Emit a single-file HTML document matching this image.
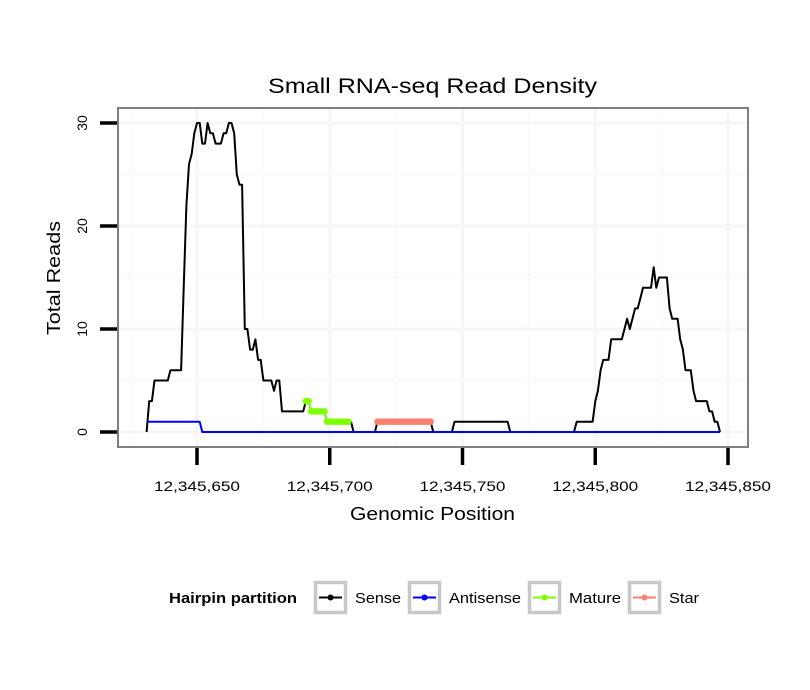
<!DOCTYPE html>
<html><head><meta charset="utf-8">
<style>
html,body{margin:0;padding:0;background:#fff;}
svg{display:block;font-family:"Liberation Sans",sans-serif;}
</style></head>
<body>
<svg id="chart" width="810" height="690" viewBox="0 0 810 690" xmlns="http://www.w3.org/2000/svg">
<rect x="0" y="0" width="810" height="690" fill="#fff"/>
<text x="268" y="93" font-size="21" textLength="329" lengthAdjust="spacingAndGlyphs" fill="#000">Small RNA-seq Read Density</text>
<g id="grid"></g>
<g id="series"></g>
<rect x="118" y="108" width="630" height="339" fill="none" stroke="#7f7f7f" stroke-width="2"/>
<g id="axes"></g>
<text x="350" y="520" font-size="18" textLength="165" lengthAdjust="spacingAndGlyphs" fill="#000">Genomic Position</text>
<text transform="translate(60,335) rotate(-90)" font-size="18" textLength="114" lengthAdjust="spacingAndGlyphs" fill="#000">Total Reads</text>
<g>
<text x="169" y="603" font-size="14.5" font-weight="bold" textLength="128" lengthAdjust="spacingAndGlyphs" fill="#000">Hairpin partition</text>
<g>
<rect x="315.5" y="582.5" width="30" height="30" fill="#fff" stroke="#c8c8c8" stroke-width="3.5"/>
<line x1="319" y1="597.5" x2="342" y2="597.5" stroke="#000" stroke-width="2"/><circle cx="330.5" cy="597.5" r="3" fill="#000"/>
<text x="355" y="603" font-size="15" textLength="46" lengthAdjust="spacingAndGlyphs">Sense</text></g>
<g>
<rect x="409.5" y="582.5" width="30" height="30" fill="#fff" stroke="#c8c8c8" stroke-width="3.5"/>
<line x1="413" y1="597.5" x2="436" y2="597.5" stroke="#0000ff" stroke-width="2"/><circle cx="424.5" cy="597.5" r="3" fill="#0000ff"/>
<text x="449" y="603" font-size="15" textLength="72" lengthAdjust="spacingAndGlyphs">Antisense</text></g>
<g>
<rect x="529.5" y="582.5" width="30" height="30" fill="#fff" stroke="#c8c8c8" stroke-width="3.5"/>
<line x1="533" y1="597.5" x2="556" y2="597.5" stroke="#7fff00" stroke-width="2"/><circle cx="544.5" cy="597.5" r="3" fill="#7fff00"/>
<text x="569" y="603" font-size="15" textLength="52" lengthAdjust="spacingAndGlyphs">Mature</text></g>
<g>
<rect x="629.5" y="582.5" width="30" height="30" fill="#fff" stroke="#c8c8c8" stroke-width="3.5"/>
<line x1="633" y1="597.5" x2="656" y2="597.5" stroke="#fa8072" stroke-width="2"/><circle cx="644.5" cy="597.5" r="3" fill="#fa8072"/>
<text x="669" y="603" font-size="15" textLength="30" lengthAdjust="spacingAndGlyphs">Star</text></g>
</g>
</svg>
<script>
const xTicks = [12345650, 12345700, 12345750, 12345800, 12345850];
const xTickLabels = ["12,345,650", "12,345,700", "12,345,750", "12,345,800", "12,345,850"];
const yTicks = [0, 10, 20, 30];
const yTickLabels = ["0", "10", "20", "30"];
const base = 12345000;
const sensePos = [631,632,633,634,639,640,644,645,646,647,648,649,650,651,652,653,654,655,656,657,659,660,661,662,663,664,665,666,667,668,669,670,671,672,673,674,675,678,679,680,681,682,690,691,692,693,698,699,708,709,717,718,738,739,746,747,767,768,792,793,799,800,801,802,803,805,806,810,811,812,813,815,816,817,818,821,822,823,824,827,828,829,831,832,833,834,836,837,838,842,843,844,845,846,847];
const senseVal = [0,3,3,5,5,6,6,14,22,26,27,29,30,30,28,28,30,29,29,28,28,29,29,30,30,29,25,24,24,10,10,8,8,9,7,7,5,5,4,5,5,2,2,3,3,2,2,1,1,0,0,1,1,0,0,1,1,0,0,1,1,3,4,6,7,7,9,9,10,11,10,12,12,13,14,14,16,14,15,15,12,11,11,9,8,6,6,4,3,3,2,2,1,1,0];
const antisensePos = [631,651,652,847];
const antisenseVal = [1,1,0,0];
const maturePos = [691,692,693,694,695,696,697,698,699,700,701,702,703,704,705,706,707];
const matureVal = [3,3,2,2,2,2,2,2,1,1,1,1,1,1,1,1,1];
const starPos = [718,719,720,721,722,723,724,725,726,727,728,729,730,731,732,733,734,735,736,737,738];
const starVal = [1,1,1,1,1,1,1,1,1,1,1,1,1,1,1,1,1,1,1,1,1];

const NS = "http://www.w3.org/2000/svg";
const xs = v => 197 + (v - 12345650) * 2.655;
const ys = v => 432 - v * 10.3;
function mk(tag, attrs, parent) {
  const e = document.createElementNS(NS, tag);
  for (const k in attrs) e.setAttribute(k, attrs[k]);
  parent.appendChild(e);
  return e;
}
const grid = document.getElementById('grid');
mk('rect', {x:118, y:108, width:630, height:339, fill:'#fff'}, grid);
for (let i = 0; i < xTicks.length; i++) {
  const minor = xs(xTicks[i] - 25);
  const g1 = mk('line', {x1:minor, x2:minor, y1:109, y2:446, stroke:'#fafafa', 'stroke-width':2}, grid);
  
  
  const g2 = mk('line', {x1:xs(xTicks[i]), x2:xs(xTicks[i]), y1:109, y2:446, stroke:'#f6f6f6', 'stroke-width':3}, grid);
  
  
}
for (let i = 0; i < yTicks.length; i++) {
  const ym = ys(yTicks[i] + 5);
  if (ym > 109) {
    const g1 = mk('line', {x1:119, x2:747, y1:ym, y2:ym, stroke:'#fafafa', 'stroke-width':2}, grid);
    
    
  }
  const g2 = mk('line', {x1:119, x2:747, y1:ys(yTicks[i]), y2:ys(yTicks[i]), stroke:'#f6f6f6', 'stroke-width':3}, grid);
  
  
}
const ser = document.getElementById('series');
function line(pos, val, color, name) {
  const pts = pos.map((p, i) => xs(base + p).toFixed(1) + ',' + ys(val[i]).toFixed(1)).join(' ');
  const l = mk('polyline', {points:pts, fill:'none', stroke:color, 'stroke-width':2, 'stroke-linejoin':'round'}, ser);
  
  
}
function dots(pos, val, color, name) {
  line(pos, val, color, name + '-line');
  pos.forEach((p, i) => {
    const c = mk('circle', {cx:xs(base + p), cy:ys(val[i]), r:3.3, fill:color}, ser);
    
    
  });
}
line(sensePos, senseVal, '#000', 'sense-line');
line(antisensePos, antisenseVal, '#0000ff', 'antisense-line');
dots(maturePos, matureVal, '#7fff00', 'mature');
dots(starPos, starVal, '#fa8072', 'star');

const axes = document.getElementById('axes');
for (let i = 0; i < xTicks.length; i++) {
  const x = xs(xTicks[i]);
  const t = mk('line', {x1:x, x2:x, y1:448, y2:465, stroke:'#000', 'stroke-width':3.5}, axes);
  
  
  const l = mk('text', {x:x - 43, y:491, 'font-size':13.5, textLength:86, lengthAdjust:'spacingAndGlyphs', fill:'#000'}, axes);
  l.textContent = xTickLabels[i];
  
  
}
for (let i = 0; i < yTicks.length; i++) {
  const y = ys(yTicks[i]);
  const t = mk('line', {x1:100, x2:117, y1:y, y2:y, stroke:'#000', 'stroke-width':3.5}, axes);
  
  
  const l = mk('text', {transform:'translate(87,' + y + ') rotate(-90)', 'font-size':14, 'text-anchor':'middle', fill:'#000'}, axes);
  l.textContent = yTickLabels[i];
  
  
}
</script>
</body></html>
